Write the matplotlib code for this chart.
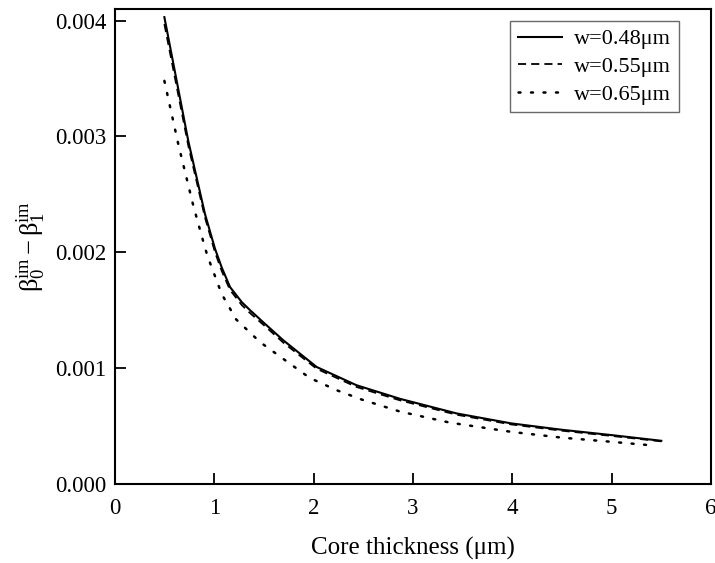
import matplotlib
matplotlib.use("Agg")
import matplotlib.pyplot as plt

plt.rcParams['font.family'] = ['Liberation Serif', 'DejaVu Serif']
plt.rcParams['mathtext.fontset'] = 'custom'
plt.rcParams['mathtext.rm'] = 'Liberation Serif'
plt.rcParams['mathtext.it'] = 'Liberation Serif:italic'

# Core thickness (um) and beta0_im - beta1_im
x_solid = [0.497, 0.621, 0.738, 0.906, 1.007, 1.074, 1.158, 1.276, 1.36, 1.5, 1.695, 2.03, 2.43, 2.87, 3.44, 3.99, 4.5, 5.0, 5.5]
y_solid = [4.03e-3, 3.48e-3, 2.96e-3, 2.33e-3, 2.03e-3, 1.87e-3, 1.70e-3, 1.57e-3, 1.50e-3, 1.39e-3, 1.24e-3,
           1.01e-3, 0.853e-3, 0.735e-3, 0.609e-3, 0.523e-3, 0.468e-3, 0.422e-3, 0.373e-3]

x_dash = [0.497, 0.621, 0.738, 0.906, 1.007, 1.074, 1.158, 1.276, 1.36, 1.5, 1.695, 2.03, 2.43, 2.87, 3.44, 3.99, 4.5, 5.0, 5.5]
y_dash = [3.97e-3, 3.43e-3, 2.92e-3, 2.30e-3, 2.00e-3, 1.84e-3, 1.675e-3, 1.545e-3, 1.475e-3, 1.37e-3, 1.22e-3,
          0.995e-3, 0.838e-3, 0.722e-3, 0.598e-3, 0.514e-3, 0.460e-3, 0.415e-3, 0.368e-3]

x_dot = [0.497, 0.638, 0.789, 0.896, 0.93, 1.074, 1.22, 1.46, 1.71, 1.96, 2.23, 2.48, 2.87, 3.37, 3.99, 4.5, 5.0, 5.45]
y_dot = [3.48e-3, 2.93e-3, 2.40e-3, 2.07e-3, 1.97e-3, 1.64e-3, 1.42e-3, 1.225e-3, 1.07e-3, 0.916e-3, 0.81e-3,
         0.73e-3, 0.625e-3, 0.53e-3, 0.45e-3, 0.40e-3, 0.364e-3, 0.33e-3]

labels = ['w=0.48μm', 'w=0.55μm', 'w=0.65μm']

fig = plt.figure(figsize=(7.15, 5.63), dpi=100)
ax = fig.add_axes([115/715, 1-484/563, (711-115)/715, (484-9)/563])

ax.plot(x_solid, y_solid, color='black', lw=1.5, linestyle='-', label=labels[0])
ax.plot(x_dash, y_dash, color='black', lw=1.3, linestyle=(0, (4.5, 2.8)), label=labels[1])
ax.plot(x_dot, y_dot, color='black', lw=1.8, linestyle=(0, (0.8, 4.2)), dash_capstyle='round', label=labels[2])

ax.set_xlim(0, 6)
ax.set_ylim(0, 0.0041)
ax.set_xticks([0, 1, 2, 3, 4, 5, 6])
ax.set_yticks([0, 0.001, 0.002, 0.003, 0.004])
ax.set_yticklabels(['0.000', '0.001', '0.002', '0.003', '0.004'])
ax.tick_params(direction='in', length=8, width=1.3, labelsize=16.5, pad=6)
ax.tick_params(axis='x', pad=10)
for s in ax.spines.values():
    s.set_linewidth(1.5)

ax.set_xlabel('Core thickness (μm)', fontsize=18, labelpad=13)
ax.set_ylabel(r'$\mathrm{β}_0^{\mathrm{im}} - \mathrm{β}_1^{\mathrm{im}}$', fontsize=19, labelpad=5)

leg = ax.legend(loc='upper right', bbox_to_anchor=(679/715, 1 - 21/563), bbox_transform=fig.transFigure,
                fontsize=16, frameon=True, fancybox=False, handlelength=2.0, borderpad=0.35,
                labelspacing=0.32, handletextpad=0.55, borderaxespad=0.0)
leg.get_frame().set_edgecolor('#444444')
leg.get_frame().set_linewidth(1.0)

fig.savefig('out.png', dpi=100)
